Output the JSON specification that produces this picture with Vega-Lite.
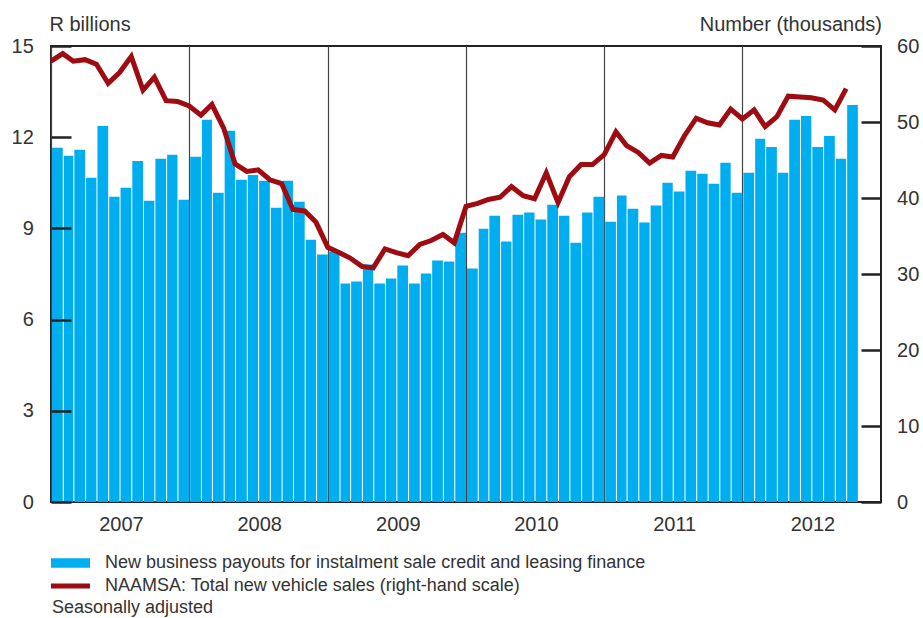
{
  "$schema": "https://vega.github.io/schema/vega-lite/v6.json",
  "width": 830,
  "height": 456,
  "autosize": {"type": "none"},
  "padding": {"left": 51, "top": 46, "right": 42, "bottom": 116},
  "background": "white",
  "config": {
    "view": {"stroke": "#222", "strokeWidth": 2},
    "font": "Liberation Sans",
    "axis": {"labelFont": "Liberation Sans", "titleFont": "Liberation Sans", "labelColor": "#333", "titleColor": "#333", "labelFontSize": 20, "titleFontSize": 20, "titleFontWeight": "normal"},
    "legend": {"labelFont": "Liberation Sans", "titleFont": "Liberation Sans"}
  },
  "data": {
    "values": [
      {"date": "2007/01/01", "payouts": 11.65, "sales": 58.0},
      {"date": "2007/02/01", "payouts": 11.39, "sales": 59.0},
      {"date": "2007/03/01", "payouts": 11.59, "sales": 58.0},
      {"date": "2007/04/01", "payouts": 10.67, "sales": 58.2},
      {"date": "2007/05/01", "payouts": 12.37, "sales": 57.6},
      {"date": "2007/06/01", "payouts": 10.04, "sales": 55.1},
      {"date": "2007/07/01", "payouts": 10.34, "sales": 56.5},
      {"date": "2007/08/01", "payouts": 11.22, "sales": 58.6},
      {"date": "2007/09/01", "payouts": 9.91, "sales": 54.2},
      {"date": "2007/10/01", "payouts": 11.29, "sales": 55.9},
      {"date": "2007/11/01", "payouts": 11.42, "sales": 52.8},
      {"date": "2007/12/01", "payouts": 9.94, "sales": 52.7},
      {"date": "2008/01/01", "payouts": 11.36, "sales": 52.1},
      {"date": "2008/02/01", "payouts": 12.57, "sales": 50.9},
      {"date": "2008/03/01", "payouts": 10.17, "sales": 52.3},
      {"date": "2008/04/01", "payouts": 12.21, "sales": 49.2},
      {"date": "2008/05/01", "payouts": 10.6, "sales": 44.5},
      {"date": "2008/06/01", "payouts": 10.76, "sales": 43.5},
      {"date": "2008/07/01", "payouts": 10.57, "sales": 43.7},
      {"date": "2008/08/01", "payouts": 9.68, "sales": 42.4},
      {"date": "2008/09/01", "payouts": 10.57, "sales": 41.9},
      {"date": "2008/10/01", "payouts": 9.88, "sales": 38.5},
      {"date": "2008/11/01", "payouts": 8.63, "sales": 38.3},
      {"date": "2008/12/01", "payouts": 8.14, "sales": 36.8},
      {"date": "2009/01/01", "payouts": 8.24, "sales": 33.5},
      {"date": "2009/02/01", "payouts": 7.19, "sales": 32.8},
      {"date": "2009/03/01", "payouts": 7.25, "sales": 32.1},
      {"date": "2009/04/01", "payouts": 7.81, "sales": 31.0},
      {"date": "2009/05/01", "payouts": 7.19, "sales": 30.8},
      {"date": "2009/06/01", "payouts": 7.35, "sales": 33.3},
      {"date": "2009/07/01", "payouts": 7.78, "sales": 32.8},
      {"date": "2009/08/01", "payouts": 7.19, "sales": 32.4},
      {"date": "2009/09/01", "payouts": 7.52, "sales": 33.9},
      {"date": "2009/10/01", "payouts": 7.94, "sales": 34.4},
      {"date": "2009/11/01", "payouts": 7.91, "sales": 35.2},
      {"date": "2009/12/01", "payouts": 8.86, "sales": 34.1},
      {"date": "2010/01/01", "payouts": 7.68, "sales": 38.9},
      {"date": "2010/02/01", "payouts": 8.99, "sales": 39.3},
      {"date": "2010/03/01", "payouts": 9.42, "sales": 39.8},
      {"date": "2010/04/01", "payouts": 8.57, "sales": 40.1},
      {"date": "2010/05/01", "payouts": 9.45, "sales": 41.5},
      {"date": "2010/06/01", "payouts": 9.52, "sales": 40.3},
      {"date": "2010/07/01", "payouts": 9.29, "sales": 39.9},
      {"date": "2010/08/01", "payouts": 9.78, "sales": 43.3},
      {"date": "2010/09/01", "payouts": 9.42, "sales": 39.4},
      {"date": "2010/10/01", "payouts": 8.53, "sales": 42.8},
      {"date": "2010/11/01", "payouts": 9.52, "sales": 44.4},
      {"date": "2010/12/01", "payouts": 10.04, "sales": 44.4},
      {"date": "2011/01/01", "payouts": 9.22, "sales": 45.7},
      {"date": "2011/02/01", "payouts": 10.08, "sales": 48.7},
      {"date": "2011/03/01", "payouts": 9.65, "sales": 46.9},
      {"date": "2011/04/01", "payouts": 9.19, "sales": 46.0},
      {"date": "2011/05/01", "payouts": 9.75, "sales": 44.6},
      {"date": "2011/06/01", "payouts": 10.5, "sales": 45.6},
      {"date": "2011/07/01", "payouts": 10.21, "sales": 45.4},
      {"date": "2011/08/01", "payouts": 10.9, "sales": 48.2},
      {"date": "2011/09/01", "payouts": 10.8, "sales": 50.5},
      {"date": "2011/10/01", "payouts": 10.47, "sales": 49.9},
      {"date": "2011/11/01", "payouts": 11.16, "sales": 49.6},
      {"date": "2011/12/01", "payouts": 10.17, "sales": 51.7},
      {"date": "2012/01/01", "payouts": 10.83, "sales": 50.4},
      {"date": "2012/02/01", "payouts": 11.95, "sales": 51.6},
      {"date": "2012/03/01", "payouts": 11.68, "sales": 49.4},
      {"date": "2012/04/01", "payouts": 10.83, "sales": 50.7},
      {"date": "2012/05/01", "payouts": 12.57, "sales": 53.4},
      {"date": "2012/06/01", "payouts": 12.7, "sales": 53.3},
      {"date": "2012/07/01", "payouts": 11.68, "sales": 53.2},
      {"date": "2012/08/01", "payouts": 12.04, "sales": 52.9},
      {"date": "2012/09/01", "payouts": 11.29, "sales": 51.6},
      {"date": "2012/10/01", "payouts": 13.06, "sales": 54.4}
    ]
  },
  "layer": [
    {
      "mark": {"type": "bar", "timeUnitBandSize": 0.78},
      "encoding": {
        "x": {
          "field": "date", "timeUnit": "yearmonth", "type": "temporal",
          "scale": {"domain": [{"year": 2007, "month": 1, "date": 1}, {"year": 2013, "month": 1, "date": 1}], "nice": false},
          "axis": {
            "values": [{"year": 2007, "month": 1, "date": 1}, {"year": 2008, "month": 1, "date": 1}, {"year": 2009, "month": 1, "date": 1}, {"year": 2010, "month": 1, "date": 1}, {"year": 2011, "month": 1, "date": 1}, {"year": 2012, "month": 1, "date": 1}],
            "format": "%Y", "labelOffset": 70, "labelFlush": false, "labelAlign": "center", "labelOverlap": false,
            "ticks": false, "domain": false, "grid": true, "gridColor": "#444", "gridWidth": 1.2,
            "labelPadding": 12.5, "title": null
          }
        },
        "y": {
          "field": "payouts", "type": "quantitative",
          "scale": {"domain": [0, 15], "nice": false},
          "axis": {
            "orient": "left", "values": [0, 3, 6, 9, 12, 15], "tickSize": -20, "tickWidth": 2.5, "tickColor": "#222",
            "domain": false, "grid": false, "labelPadding": 37.7, "labelAlign": "right", "zindex": 1,
            "title": "R billions", "titleAngle": 0, "titleAlign": "left", "titleBaseline": "alphabetic", "titleX": -2, "titleY": -16
          }
        },
        "color": {
          "datum": "New business payouts for instalment sale credit and leasing finance",
          "scale": {
            "domain": ["New business payouts for instalment sale credit and leasing finance", "NAAMSA: Total new vehicle sales (right-hand scale)"],
            "range": ["#00AEEF", "#9E0B10"]
          },
          "legend": {
            "orient": "none", "legendX": -4, "legendY": 508, "direction": "vertical",
            "title": "Seasonally adjusted", "titleOrient": "bottom", "titleAnchor": "start", "titleFontSize": 18, "titleFontWeight": "normal", "titleColor": "#333", "titlePadding": 4, "titleLimit": 0,
            "labelFontSize": 18, "labelColor": "#333", "labelOffset": 40, "labelLimit": 0,
            "symbolSize": 100, "rowPadding": 5, "padding": 0,
            "encode": {
              "title": {"update": {"dx": {"value": 5}}},
              "symbols": {
                "update": {
                  "shape": {"signal": "datum.value === 'New business payouts for instalment sale credit and leasing finance' ? 'M-1,-0.95H6.8V0.95H-1Z' : 'M-1,-0.52H6.8V0.52H-1Z'"},
                  "fill": {"signal": "datum.value === 'New business payouts for instalment sale credit and leasing finance' ? '#00AEEF' : '#C8161D'"},
                  "stroke": {"value": "transparent"},
                  "strokeWidth": {"value": 0},
                  "opacity": {"value": 1}
                }
              }
            }
          }
        }
      }
    },
    {
      "mark": {"type": "line", "strokeWidth": 5, "timeUnitBandPosition": 0.5, "strokeJoin": "miter"},
      "encoding": {
        "x": {"field": "date", "timeUnit": "yearmonth", "type": "temporal"},
        "y": {
          "field": "sales", "type": "quantitative",
          "scale": {"domain": [0, 60], "nice": false},
          "axis": {
            "orient": "right", "values": [0, 10, 20, 30, 40, 50, 60], "tickSize": -20, "tickWidth": 2.5, "tickColor": "#222",
            "domain": false, "grid": false, "labelPadding": 35.6, "labelAlign": "left", "zindex": 1,
            "title": "Number (thousands)", "titleAngle": 0, "titleAlign": "right", "titleBaseline": "alphabetic", "titleX": 0.5, "titleY": -16
          }
        },
        "color": {"datum": "NAAMSA: Total new vehicle sales (right-hand scale)"}
      }
    }
  ],
  "resolve": {"scale": {"y": "independent"}}
}
